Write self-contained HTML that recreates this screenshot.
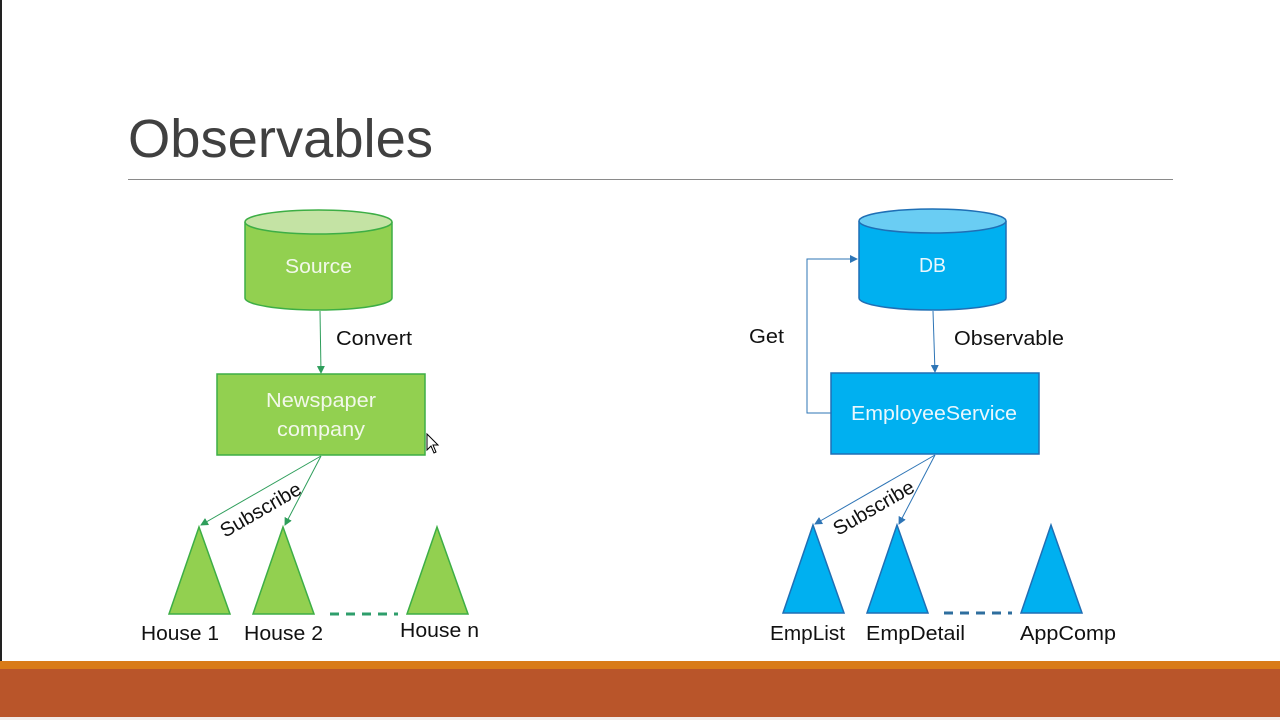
<!DOCTYPE html>
<html><head><meta charset="utf-8"><style>
html,body{margin:0;padding:0;background:#fff;}
svg{display:block;}
text{font-family:"Liberation Sans",sans-serif;}
</style></head><body>
<svg width="1280" height="720" viewBox="0 0 1280 720" xmlns="http://www.w3.org/2000/svg">
<defs>
<marker id="ag" markerWidth="8" markerHeight="8" refX="7" refY="4" orient="auto" markerUnits="userSpaceOnUse"><path d="M0,0 L8,4 L0,8 z" fill="#2E9E5B"/></marker>
<marker id="ab" markerWidth="8" markerHeight="8" refX="7" refY="4" orient="auto" markerUnits="userSpaceOnUse"><path d="M0,0 L8,4 L0,8 z" fill="#2E75B6"/></marker>
</defs>
<rect x="0" y="0" width="2" height="662" fill="#222"/>
<text x="128" y="157" font-size="54" fill="#404040" textLength="305" lengthAdjust="spacingAndGlyphs">Observables</text>
<line x1="128" y1="179.5" x2="1173" y2="179.5" stroke="#8a8a8a" stroke-width="1"/>

<!-- Left diagram -->
<path d="M245,222 L245,298 A73.5,12 0 0 0 392,298 L392,222" fill="#92D050" stroke="#3DAE45" stroke-width="1.5"/>
<ellipse cx="318.5" cy="222" rx="73.5" ry="12" fill="#C4E3A4" stroke="#3DAE45" stroke-width="1.5"/>
<text x="285" y="273" font-size="20" fill="#F2F8EA" textLength="67" lengthAdjust="spacingAndGlyphs">Source</text>
<line x1="320" y1="311" x2="321" y2="373" stroke="#2E9E5B" stroke-width="1" marker-end="url(#ag)"/>
<text x="336" y="345" font-size="20" fill="#111" textLength="76" lengthAdjust="spacingAndGlyphs">Convert</text>
<rect x="217" y="374" width="208" height="81" fill="#92D050" stroke="#3DAE45" stroke-width="1.5"/>
<text x="266" y="407" font-size="20" fill="#F2F8EA" textLength="110" lengthAdjust="spacingAndGlyphs">Newspaper</text>
<text x="277" y="436" font-size="20" fill="#F2F8EA" textLength="88" lengthAdjust="spacingAndGlyphs">company</text>
<line x1="321" y1="456" x2="201" y2="525" stroke="#2E9E5B" stroke-width="1" marker-end="url(#ag)"/>
<line x1="321" y1="456" x2="285" y2="525" stroke="#2E9E5B" stroke-width="1" marker-end="url(#ag)"/>
<text x="0" y="0" font-size="20" fill="#111" transform="translate(225,538) rotate(-30)" textLength="90" lengthAdjust="spacingAndGlyphs">Subscribe</text>
<polygon points="199,527 169,614 230,614" fill="#92D050" stroke="#3DAE45" stroke-width="1.5"/>
<polygon points="283,527 253,614 314,614" fill="#92D050" stroke="#3DAE45" stroke-width="1.5"/>
<polygon points="437,527 407,614 468,614" fill="#92D050" stroke="#3DAE45" stroke-width="1.5"/>
<line x1="330" y1="614" x2="398" y2="614" stroke="#2E9E6B" stroke-width="3" stroke-dasharray="9,7"/>
<text x="141" y="640" font-size="20" fill="#111" textLength="78" lengthAdjust="spacingAndGlyphs">House 1</text>
<text x="244" y="640" font-size="20" fill="#111" textLength="79" lengthAdjust="spacingAndGlyphs">House 2</text>
<text x="400" y="637" font-size="20" fill="#111" textLength="79" lengthAdjust="spacingAndGlyphs">House n</text>

<!-- Right diagram -->
<path d="M859,221 L859,298 A73.5,12 0 0 0 1006,298 L1006,221" fill="#00B0F0" stroke="#1F6FB5" stroke-width="1.5"/>
<ellipse cx="932.5" cy="221" rx="73.5" ry="12" fill="#6ACDF3" stroke="#1F6FB5" stroke-width="1.5"/>
<text x="919" y="272" font-size="20" fill="#EAF7FD" textLength="27" lengthAdjust="spacingAndGlyphs">DB</text>
<line x1="933" y1="311" x2="935" y2="372" stroke="#2E75B6" stroke-width="1" marker-end="url(#ab)"/>
<text x="954" y="345" font-size="20" fill="#111" textLength="110" lengthAdjust="spacingAndGlyphs">Observable</text>
<polyline points="831,413 807,413 807,259 857,259" fill="none" stroke="#2E75B6" stroke-width="1" marker-end="url(#ab)"/>
<text x="749" y="343" font-size="20" fill="#111" textLength="35" lengthAdjust="spacingAndGlyphs">Get</text>
<rect x="831" y="373" width="208" height="81" fill="#00B0F0" stroke="#1F6FB5" stroke-width="1.5"/>
<text x="851" y="420" font-size="20" fill="#EAF7FD" textLength="166" lengthAdjust="spacingAndGlyphs">EmployeeService</text>
<line x1="935" y1="455" x2="815" y2="524" stroke="#2E75B6" stroke-width="1" marker-end="url(#ab)"/>
<line x1="935" y1="455" x2="899" y2="524" stroke="#2E75B6" stroke-width="1" marker-end="url(#ab)"/>
<text x="0" y="0" font-size="20" fill="#111" transform="translate(838,536) rotate(-30)" textLength="90" lengthAdjust="spacingAndGlyphs">Subscribe</text>
<polygon points="813,525 783,613 844,613" fill="#00B0F0" stroke="#1F6FB5" stroke-width="1.5"/>
<polygon points="897,525 867,613 928,613" fill="#00B0F0" stroke="#1F6FB5" stroke-width="1.5"/>
<polygon points="1051,525 1021,613 1082,613" fill="#00B0F0" stroke="#1F6FB5" stroke-width="1.5"/>
<line x1="944" y1="613" x2="1012" y2="613" stroke="#2E6E9E" stroke-width="3" stroke-dasharray="9,7"/>
<text x="770" y="640" font-size="20" fill="#111" textLength="75" lengthAdjust="spacingAndGlyphs">EmpList</text>
<text x="866" y="640" font-size="20" fill="#111" textLength="99" lengthAdjust="spacingAndGlyphs">EmpDetail</text>
<text x="1020" y="640" font-size="20" fill="#111" textLength="96" lengthAdjust="spacingAndGlyphs">AppComp</text>

<!-- cursor -->
<path d="M427,434 L427,450 L431,446 L434,453 L436,452 L433,445 L438,445 z" fill="#fff" stroke="#000" stroke-width="1"/>

<!-- footer -->
<rect x="0" y="661" width="1280" height="8" fill="#D97B18"/>
<rect x="0" y="669" width="1280" height="48" fill="#B9552A"/>
<rect x="0" y="717" width="1280" height="3" fill="#F2ECEA"/>
</svg>
</body></html>
